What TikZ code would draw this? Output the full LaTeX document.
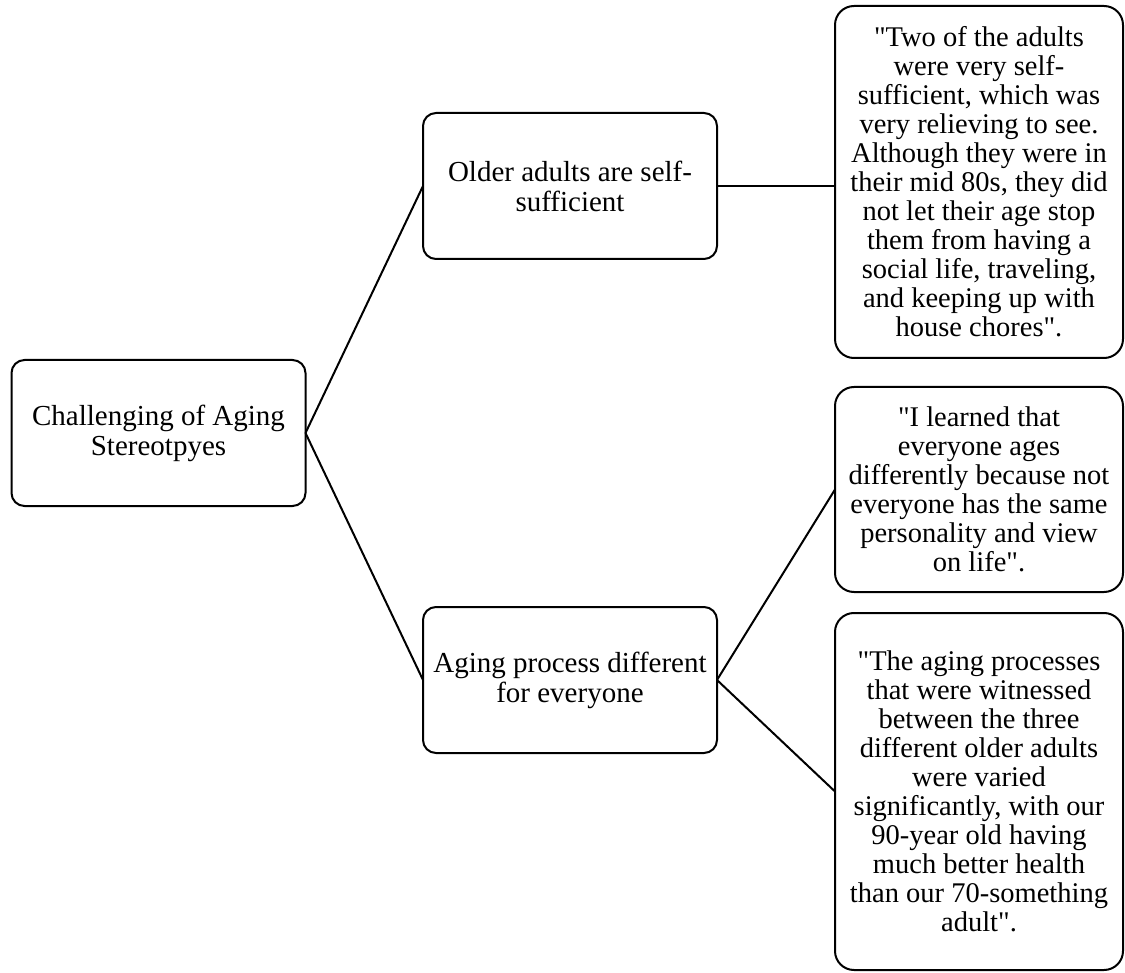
\documentclass[tikz,border=0pt]{standalone}
\usepackage{fontspec}
\newfontfamily\tnr{Liberation Serif}
\begin{document}
\begin{tikzpicture}[x=1pt,y=-1pt,
  box/.style={draw, line width=2pt, rounded corners=13pt, minimum width=294pt, minimum height=146pt,
    inner sep=0pt, outer sep=0pt, align=center, font=\tnr\fontsize{29}{30}\selectfont},
  quote/.style={draw, line width=2pt, rounded corners=19pt, minimum width=288pt,
    inner sep=0pt, outer sep=0pt, align=center, font=\tnr\fontsize{28.5}{29}\selectfont},
  link/.style={line width=2pt}]
\useasboundingbox (0,0) rectangle (1125,973);
\node[box] (b1) at (158.5,433) {Challenging of Aging\\Stereotpyes};
\node[box] (b2) at (570,186) {Older adults are self-\\sufficient};
\node[box] (b3) at (570,680) {Aging process different\\for everyone};
\node[quote, minimum height=352pt] (q1) at (979,182) {"Two of the adults\\were very self-\\sufficient, which was\\very relieving to see.\\Although they were in\\their mid 80s, they did\\not let their age stop\\them from having a\\social life, traveling,\\and keeping up with\\house chores".};
\node[quote, minimum height=205pt] (q2) at (979,489.5) {"I learned that\\everyone ages\\differently because not\\everyone has the same\\personality and view\\on life".};
\node[quote, minimum height=357pt] (q3) at (979,791.5) {"The aging processes\\that were witnessed\\between the three\\different older adults\\were varied\\significantly, with our\\90-year old having\\much better health\\than our 70-something\\adult".};
\draw[link] (b1.east) -- (b2.west);
\draw[link] (b1.east) -- (b3.west);
\draw[link] (b2.east) -- (b2.east -| q1.west);
\draw[link] (b3.east) -- (q2.west);
\draw[link] (b3.east) -- (q3.west);
\end{tikzpicture}
\end{document}
